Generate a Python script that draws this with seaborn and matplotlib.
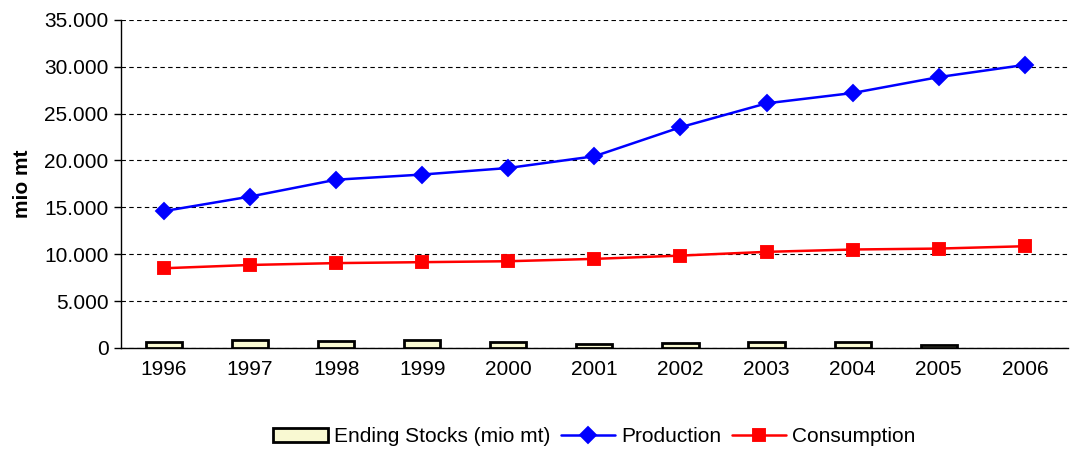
import numpy as np
import pandas as pd
import matplotlib
matplotlib.use('Agg')
import matplotlib.pyplot as plt
import seaborn as sns
from matplotlib.ticker import FuncFormatter, FixedLocator

# data (thousand mt)
years = ['1996', '1997', '1998', '1999', '2000', '2001', '2002', '2003', '2004', '2005', '2006']
production = [14600, 16150, 17950, 18500, 19200, 20450, 23550, 26100, 27200, 28900, 30200]
consumption = [8500, 8850, 9050, 9150, 9250, 9500, 9850, 10250, 10500, 10600, 10850]
stocks = [670, 850, 780, 850, 600, 460, 570, 670, 600, 280, np.nan]  # no bar for 2006

df = pd.DataFrame({'year': years, 'Production': production,
                   'Consumption': consumption, 'Stocks': stocks})

sns.set_style('white')
plt.rcParams['font.family'] = ['Liberation Sans', 'DejaVu Sans']
plt.rcParams['text.color'] = 'black'
plt.rcParams['axes.labelcolor'] = 'black'
plt.rcParams['xtick.color'] = 'black'
plt.rcParams['ytick.color'] = 'black'

fig = plt.figure(figsize=(10.7, 4.53), dpi=100)
ax = fig.add_axes([0.113, 0.232, 0.885, 0.724])

sns.barplot(data=df, x='year', y='Stocks', color='#FFFFCC', edgecolor='black',
            linewidth=2, width=0.42, ax=ax, zorder=3, label='Ending Stocks (mio mt)')
sns.pointplot(data=df, x='year', y='Production', color='#0000FF', markers='D',
              markersize=8, linewidth=1.8, ax=ax, zorder=4, label='Production')
sns.pointplot(data=df, x='year', y='Consumption', color='#FF0000', markers='s',
              markersize=9, linewidth=1.8, ax=ax, zorder=4, label='Consumption')

ax.set_ylim(0, 35000)
ax.set_xlim(-0.5, len(years) - 0.5)
ax.set_yticks(np.arange(0, 35001, 5000))
ax.yaxis.set_major_formatter(FuncFormatter(lambda v, p: f'{v:,.0f}'.replace(',', '.')))
ax.yaxis.grid(True, color='black', linestyle=(0, (4, 3)), linewidth=0.8)
ax.set_axisbelow(True)

ax.xaxis.set_minor_locator(FixedLocator(np.arange(-0.5, len(years), 1)))
ax.tick_params(axis='x', which='major', length=0, pad=9, labelsize=15)
ax.tick_params(axis='x', which='minor', length=6, width=1, color='#555555', direction='out')
ax.tick_params(axis='y', length=5, width=1, direction='out', left=True, labelsize=15, pad=4)

for s in ['top', 'right']:
    ax.spines[s].set_visible(False)
for s in ['left', 'bottom']:
    ax.spines[s].set_color('black')
    ax.spines[s].set_linewidth(1)

ax.set_xlabel('')
ax.set_ylabel('mio mt', fontsize=15, fontweight='bold', labelpad=9)

handles, labels = ax.get_legend_handles_labels()
order = [labels.index('Ending Stocks (mio mt)'), labels.index('Production'), labels.index('Consumption')]
ax.legend([handles[i] for i in order], [labels[i] for i in order], loc='center',
          bbox_to_anchor=(0.5, -0.271), ncol=3,
          frameon=False, fontsize=15, handlelength=2.6, handletextpad=0.3,
          columnspacing=0.5)

fig.savefig('out.png', dpi=100)
